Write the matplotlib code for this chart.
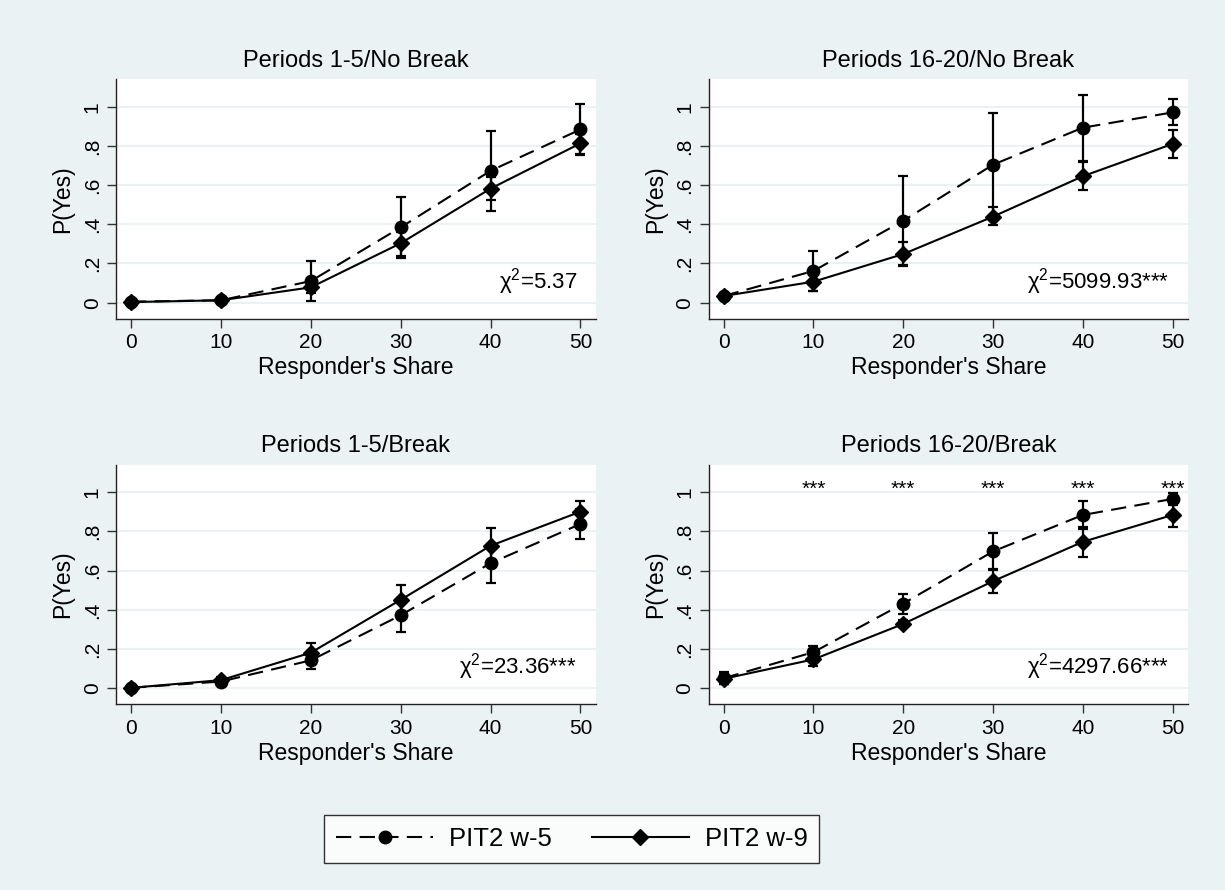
import matplotlib
matplotlib.use("Agg")
import matplotlib.pyplot as plt
from matplotlib.lines import Line2D

plt.rcParams["font.family"] = ["Liberation Sans", "DejaVu Sans"]
plt.rcParams["mathtext.fontset"] = "custom"
plt.rcParams["mathtext.rm"] = "Liberation Sans"
plt.rcParams["mathtext.it"] = "Liberation Sans:italic"
plt.rcParams["lines.scale_dashes"] = False

BG = "#eaf2f3"

shares = [0, 10, 20, 30, 40, 50]
titles = ["Periods 1-5/No Break", "Periods 16-20/No Break",
          "Periods 1-5/Break", "Periods 16-20/Break"]
chi_labels = ["5.37", "5099.93***", "23.36***", "4297.66***"]
series_names = ["PIT2 w-5", "PIT2 w-9"]

# PIT2 w-5 (circles, dashed): point estimate, lower and upper CI bound
w5_p1 = [0.005, 0.012, 0.110, 0.384, 0.673, 0.884]
w5_p1_lo = [0.000, 0.005, 0.010, 0.230, 0.469, 0.756]
w5_p1_hi = [0.010, 0.020, 0.213, 0.540, 0.876, 1.012]
w5_p2 = [0.034, 0.162, 0.418, 0.704, 0.893, 0.971]
w5_p2_lo = [0.020, 0.060, 0.190, 0.442, 0.723, 0.905]
w5_p2_hi = [0.050, 0.264, 0.646, 0.966, 1.061, 1.037]
w5_p3 = [0.002, 0.034, 0.142, 0.372, 0.638, 0.838]
w5_p3_lo = [0.000, 0.020, 0.096, 0.287, 0.539, 0.761]
w5_p3_hi = [0.005, 0.050, 0.190, 0.457, 0.737, 0.915]
w5_p4 = [0.051, 0.184, 0.432, 0.698, 0.884, 0.966]
w5_p4_lo = [0.020, 0.153, 0.381, 0.608, 0.812, 0.935]
w5_p4_hi = [0.082, 0.215, 0.483, 0.790, 0.956, 0.997]

# PIT2 w-9 (diamonds, solid)
w9_p1 = [0.003, 0.012, 0.078, 0.303, 0.582, 0.813]
w9_p1_lo = [0.000, 0.005, 0.050, 0.240, 0.524, 0.760]
w9_p1_hi = [0.006, 0.020, 0.110, 0.360, 0.643, 0.860]
w9_p2 = [0.034, 0.107, 0.248, 0.439, 0.645, 0.810]
w9_p2_lo = [0.020, 0.060, 0.189, 0.395, 0.575, 0.736]
w9_p2_hi = [0.050, 0.150, 0.310, 0.486, 0.720, 0.881]
w9_p3 = [0.002, 0.041, 0.181, 0.451, 0.727, 0.901]
w9_p3_lo = [0.000, 0.025, 0.132, 0.373, 0.638, 0.845]
w9_p3_hi = [0.005, 0.057, 0.230, 0.529, 0.816, 0.957]
w9_p4 = [0.048, 0.147, 0.328, 0.546, 0.747, 0.884]
w9_p4_lo = [0.020, 0.113, 0.310, 0.488, 0.672, 0.823]
w9_p4_hi = [0.076, 0.181, 0.346, 0.604, 0.822, 0.945]

# significance stars on the last panel
star_shares = [10, 20, 30, 40, 50]
star_level = 1.015

yticks = [0, 0.2, 0.4, 0.6, 0.8, 1.0]
ytick_labels = ["0", ".2", ".4", ".6", ".8", "1"]


def draw_series(ax, y, lo, hi, marker, dashed):
    yerr = [[v - l for v, l in zip(y, lo)], [h - v for v, h in zip(y, hi)]]
    ax.errorbar(shares, y, yerr=yerr, fmt="none", ecolor="black",
                elinewidth=1.6, capsize=3.5, capthick=1.6, zorder=3)
    if dashed:
        ax.plot(shares, y, color="black", lw=1.5, dashes=(11, 6),
                marker=marker, ms=9, zorder=4)
    else:
        ax.plot(shares, y, color="black", lw=1.5, marker=marker,
                ms=8.5, zorder=4)


def style_panel(ax, title, chi):
    ax.set_facecolor("white")
    ax.set_xlim(-1.64, 51.7)
    ax.set_ylim(-0.082, 1.14)
    ax.set_xticks(shares)
    ax.set_yticks(yticks)
    ax.set_yticklabels(ytick_labels, rotation=90, va="center")
    ax.tick_params(axis="both", labelsize=15, length=6.5, width=1.0,
                   color="#333333", pad=4)
    ax.grid(axis="y", color=BG, lw=1.4)
    ax.set_axisbelow(True)
    for s in ["top", "right"]:
        ax.spines[s].set_visible(False)
    for s in ["left", "bottom"]:
        ax.spines[s].set_linewidth(1.0)
        ax.spines[s].set_color("#222222")
    ax.set_title(title, fontsize=17, pad=9)
    ax.set_xlabel("Responder's Share", fontsize=16.5, labelpad=3)
    ax.set_ylabel("P(Yes)", fontsize=16.5, labelpad=6)
    ax.text(49.6, 0.11, r"χ$^{2}$=" + chi, ha="right", va="center",
            fontsize=16)


def main():
    fig = plt.figure(figsize=(12.25, 8.9), dpi=100, facecolor=BG)
    positions = [
        [0.0949, 0.6419, 0.3914, 0.269],
        [0.5788, 0.6419, 0.3908, 0.269],
        [0.0949, 0.2087, 0.3914, 0.269],
        [0.5788, 0.2087, 0.3908, 0.269],
    ]
    w5_all = [(w5_p1, w5_p1_lo, w5_p1_hi), (w5_p2, w5_p2_lo, w5_p2_hi),
              (w5_p3, w5_p3_lo, w5_p3_hi), (w5_p4, w5_p4_lo, w5_p4_hi)]
    w9_all = [(w9_p1, w9_p1_lo, w9_p1_hi), (w9_p2, w9_p2_lo, w9_p2_hi),
              (w9_p3, w9_p3_lo, w9_p3_hi), (w9_p4, w9_p4_lo, w9_p4_hi)]

    for i, pos in enumerate(positions):
        ax = fig.add_axes(pos)
        draw_series(ax, *w5_all[i], marker="o", dashed=True)
        draw_series(ax, *w9_all[i], marker="D", dashed=False)
        style_panel(ax, titles[i], chi_labels[i])
        if i == 3:
            for x in star_shares:
                ax.text(x, star_level, "***", ha="center", va="center",
                        fontsize=15)

    handles = [
        Line2D([], [], color="black", lw=1.5, dashes=(11, 6), marker="o", ms=9),
        Line2D([], [], color="black", lw=1.5, marker="D", ms=8.5),
    ]
    leg = fig.legend(handles, series_names, loc="center",
                     bbox_to_anchor=(571.7 / 1225, 1 - 839 / 890),
                     ncol=2, fontsize=18.5, handlelength=3.8,
                     handletextpad=0.6, columnspacing=1.55,
                     frameon=True, fancybox=False, borderpad=0.45,
                     borderaxespad=0.3)
    leg.get_frame().set_edgecolor("black")
    leg.get_frame().set_linewidth(1.0)

    fig.savefig("out.png", dpi=100, facecolor=BG)


if __name__ == "__main__":
    main()
